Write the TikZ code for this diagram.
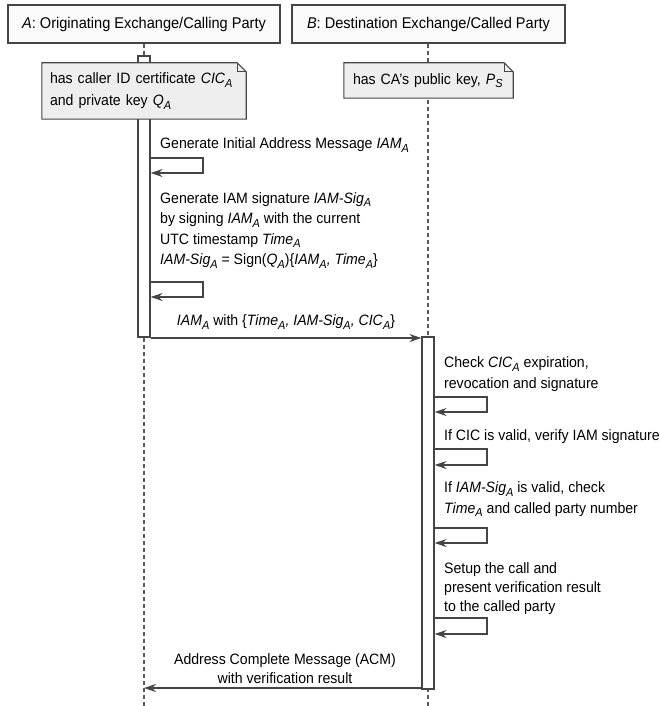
\documentclass[tikz,border=0pt]{standalone}
\usepackage{fontspec}
\setmainfont[FakeStretch=0.94]{Liberation Sans}
\usepackage{graphicx}
\usetikzlibrary{arrows.meta}
\definecolor{ln}{HTML}{454545}
\definecolor{lifec}{HTML}{5A5A5A}
\definecolor{notefill}{HTML}{EEEEEE}
\definecolor{boxfill}{HTML}{FAFAFA}
\newcommand\itsub[2]{\textit{#1}\raisebox{-0.45ex}{\scalebox{0.78}{\itshape #2}}}
\tikzset{
  headbox/.style={draw=ln, fill=boxfill, line width=1.2pt, minimum height=38pt, inner sep=0pt, font=\fontsize{15.5}{19}\selectfont},
  life/.style={draw=lifec, line width=1.1pt, dash pattern=on 4pt off 3pt},
  actbox/.style={draw=ln, fill=white, line width=1.1pt, minimum width=12pt, inner sep=0pt},
  notebox/.style={fill=notefill, inner ysep=0pt, align=left, anchor=center},
  noteline/.style={draw=ln, line width=1.1pt, line join=miter},
  msg/.style={draw=ln, line width=1.2pt, -{Stealth[length=12pt,width=8pt,inset=4pt]}},
  lbl/.style={inner sep=0pt, align=left, anchor=west},
  mlbl/.style={inner sep=0pt, align=center}
}
\begin{document}
\begin{tikzpicture}[x=1pt,y=-1pt,font=\fontsize{15}{20.5}\selectfont]
\useasboundingbox (0,0) rectangle (659,706);
% heads
\node[headbox, minimum width=272pt] (A) at (144,24) {\textit{A}: Originating Exchange/Calling Party};
\node[headbox, minimum width=273pt] (B) at (428.5,24) {\textit{B}: Destination Exchange/Called Party};
% lifelines
\coordinate (Aend) at (144,706);
\coordinate (Bend) at (428,706);
\draw[life] (A.south -| Aend) -- (Aend);
\draw[life] (B.south -| Bend) -- (Bend);
% activations
\node[actbox, minimum height=281pt] (actA) at (144,196.5) {};
\node[actbox, minimum height=352pt] (actB) at (428,513) {};
% note A
\node[notebox, minimum width=204pt, minimum height=56pt, text width=188pt, inner xsep=8pt] (noteA) at (144,91)
  {has caller ID certificate \itsub{CIC}{A}\\[1.5pt] and private key \itsub{Q}{A}};
\fill[white] ([xshift=-9pt]noteA.north east) -- (noteA.north east) -- ([yshift=-9pt]noteA.north east) -- cycle;
\draw[noteline] (noteA.north west) -- ([xshift=-9pt]noteA.north east) -- ([yshift=-9pt]noteA.north east) -- (noteA.south east) -- (noteA.south west) -- cycle;
\draw[noteline] ([xshift=-9pt]noteA.north east) |- ([yshift=-9pt]noteA.north east);
% note B
\node[notebox, minimum width=169pt, minimum height=35pt, text width=151pt, inner xsep=9pt] (noteB) at (428.5,80.5)
  {has CA's public key, \itsub{P}{S}};
\fill[white] ([xshift=-9pt]noteB.north east) -- (noteB.north east) -- ([yshift=-9pt]noteB.north east) -- cycle;
\draw[noteline] (noteB.north west) -- ([xshift=-9pt]noteB.north east) -- ([yshift=-9pt]noteB.north east) -- (noteB.south east) -- (noteB.south west) -- cycle;
\draw[noteline] ([xshift=-9pt]noteB.north east) |- ([yshift=-9pt]noteB.north east);
% A self message 1
\node[lbl] (t1) at (160,145) {Generate Initial Address Message \itsub{IAM}{A}};
\coordinate (l1t) at (203,158);
\coordinate (l1b) at (203,173);
\draw[msg] (actA.east |- l1t) -- (l1t) -- (l1b) -- (actA.east |- l1b);
% A self message 2
\node[lbl] (t2) at (160,230.5) {Generate IAM signature \itsub{IAM-Sig}{A}\\
  by signing \itsub{IAM}{A} with the current\\
  UTC timestamp \itsub{Time}{A}\\
  \itsub{IAM-Sig}{A} = Sign(\itsub{Q}{A})\{\itsub{IAM}{A}\textit{,} \itsub{Time}{A}\}};
\coordinate (l2t) at (203,282);
\coordinate (l2b) at (203,297);
\draw[msg] (actA.east |- l2t) -- (l2t) -- (l2b) -- (actA.east |- l2b);
% message A -> B
\coordinate (m1) at (286,338);
\node[mlbl] (t3) at (286,322) {\itsub{IAM}{A} with \{\itsub{Time}{A}\textit{,} \itsub{IAM-Sig}{A}\textit{,} \itsub{CIC}{A}\}};
\draw[msg] (actA.east |- m1) -- (actB.west |- m1);
% B self messages
\node[lbl] (t4) at (444,374) {Check \itsub{CIC}{A} expiration,\\ revocation and signature};
\coordinate (l3t) at (487,397);
\coordinate (l3b) at (487,412);
\draw[msg] (actB.east |- l3t) -- (l3t) -- (l3b) -- (actB.east |- l3b);
\node[lbl] (t5) at (444,437) {If CIC is valid, verify IAM signature};
\coordinate (l4t) at (487,449);
\coordinate (l4b) at (487,465);
\draw[msg] (actB.east |- l4t) -- (l4t) -- (l4b) -- (actB.east |- l4b);
\node[lbl] (t6) at (444,499.5) {If \itsub{IAM-Sig}{A} is valid, check\\ \itsub{Time}{A} and called party number};
\coordinate (l5t) at (487,528);
\coordinate (l5b) at (487,543);
\draw[msg] (actB.east |- l5t) -- (l5t) -- (l5b) -- (actB.east |- l5b);
\node[lbl, font=\fontsize{15}{18.8}\selectfont] (t7) at (444,588.5) {Setup the call and\\ present verification result\\ to the called party};
\coordinate (l6t) at (487,618);
\coordinate (l6b) at (487,634);
\draw[msg] (actB.east |- l6t) -- (l6t) -- (l6b) -- (actB.east |- l6b);
% ACM
\coordinate (m2) at (144,688);
\node[mlbl, font=\fontsize{15}{19}\selectfont] (t8) at (285,668.5) {Address Complete Message (ACM)\\ with verification result};
\draw[msg] (actB.west |- m2) -- (m2);
\end{tikzpicture}
\end{document}
